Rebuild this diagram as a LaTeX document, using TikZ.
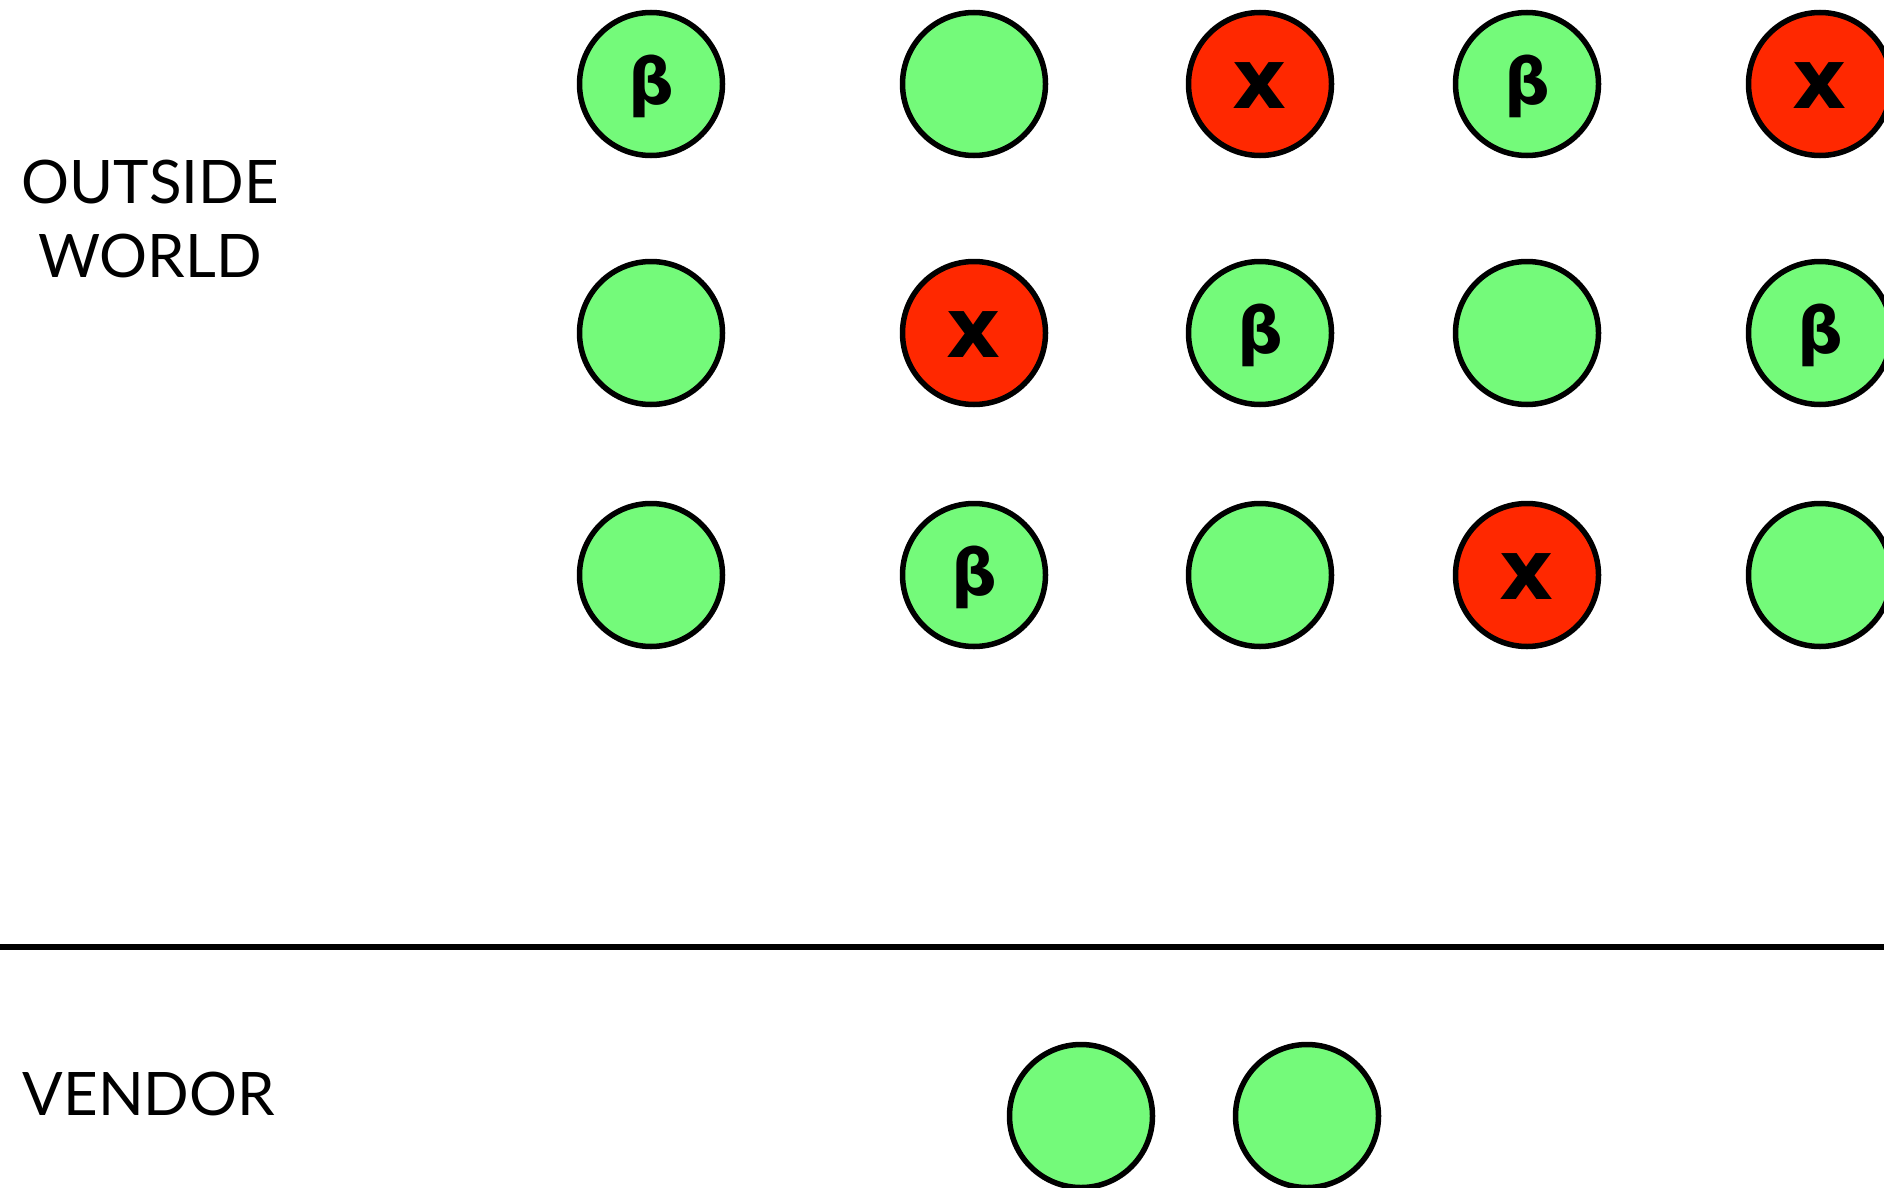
\documentclass[tikz,border=0pt]{standalone}
\usepackage{fontspec}
\setmainfont{Lato}
\newfontfamily\symfont{DejaVu Sans}
\definecolor{okgreen}{RGB}{116,250,122}
\definecolor{badred}{RGB}{255,40,0}
\begin{document}
\begin{tikzpicture}[x=1pt,y=-1pt,
  dot/.style={circle,draw=black,line width=5.5pt,minimum size=143pt,inner sep=0pt},
  good/.style={dot,fill=okgreen},
  bad/.style={dot,fill=badred},
  betamark/.style={font=\symfont\bfseries\fontsize{64}{64}\selectfont},
  xmark/.style={font=\symfont\bfseries\fontsize{84}{84}\selectfont},
  lbl/.style={font=\fontsize{60}{74}\selectfont,inner sep=0pt}]
\useasboundingbox (0,0) rectangle (1884,1188);
\clip (0,0) rectangle (1884,1188);
\fill[white] (0,0) rectangle (1884,1188);
% labels
\node[lbl,anchor=base] (out1) at (150,203) {OUTSIDE};
\node[lbl,anchor=base] (out2) at (150,277) {WORLD};
\node[lbl,anchor=base] (vendor) at (149,1115) {VENDOR};
% row 1
\node[good] (a1) at (651,84) {};
\node[good] (a2) at (974,84) {};
\node[bad]  (a3) at (1260,84) {};
\node[good] (a4) at (1527,84) {};
\node[bad]  (a5) at (1820,84) {};
% row 2
\node[good] (b1) at (651,333) {};
\node[bad]  (b2) at (974,333) {};
\node[good] (b3) at (1260,333) {};
\node[good] (b4) at (1527,333) {};
\node[good] (b5) at (1820,333) {};
% row 3
\node[good] (c1) at (651,575) {};
\node[good] (c2) at (974,575) {};
\node[good] (c3) at (1260,575) {};
\node[bad]  (c4) at (1527,575) {};
\node[good] (c5) at (1820,575) {};
% vendor
\node[good] (v1) at (1081,1116) {};
\node[good] (v2) at (1307,1116) {};
% marks
\foreach \n in {a1,a4,b3,b5,c2}{
  \node[betamark] (m\n) at ([yshift=-2pt]\n.center) {β};}
\foreach \n in {a3,a5,b2,c4}{
  \node[xmark] (m\n) at ([yshift=-2pt]\n.center) {x};}
% divider
\coordinate (dl) at (0,947);
\coordinate (dr) at (1884,947);
\draw[line width=5.5pt] (dl) -- (dr);
\end{tikzpicture}
\end{document}
